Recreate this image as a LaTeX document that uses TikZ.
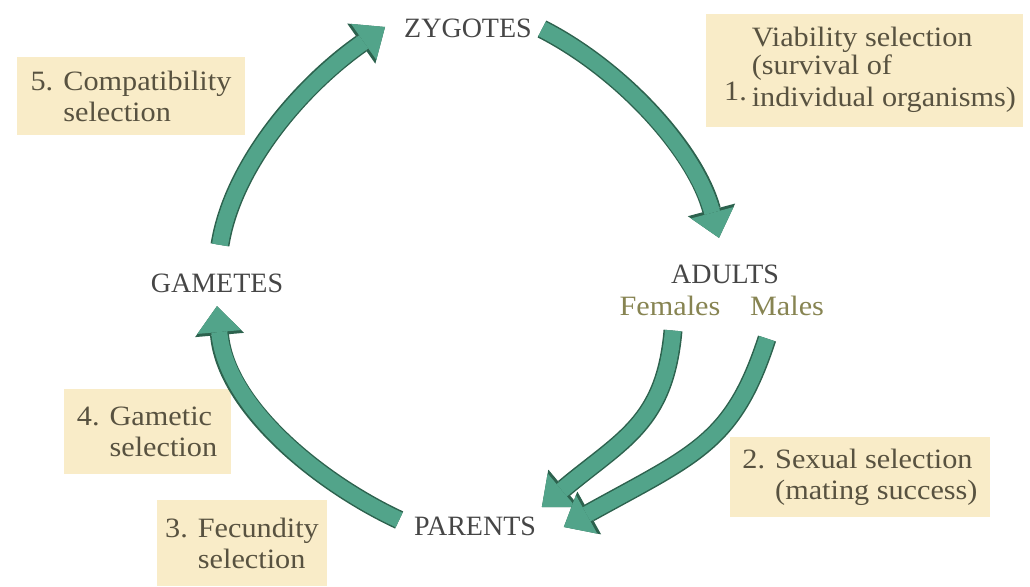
\documentclass[tikz,border=0pt]{standalone}
\usepackage{fontspec}
\setmainfont{Liberation Serif}
\newfontfamily\widefont[FakeStretch=1.08]{Liberation Serif}
\usetikzlibrary{arrows.meta}
\definecolor{boxbeige}{RGB}{249,236,200}
\definecolor{boxtext}{RGB}{88,82,64}
\definecolor{stagegray}{RGB}{70,70,70}
\definecolor{sexolive}{RGB}{135,132,82}
\definecolor{arrowteal}{RGB}{82,164,138}
\definecolor{arrowedge}{RGB}{45,98,78}
\tikzset{
  stage/.style={inner sep=0pt, text=stagegray, font=\fontsize{28}{32}\selectfont},
  sex/.style={inner sep=0pt, text=sexolive, font=\widefont\fontsize{28}{32}\selectfont},
  selbox/.style={fill=boxbeige, text=boxtext, align=left, inner sep=0pt,
    font=\widefont\fontsize{28}{31}\selectfont},
  cycarrow/.style={draw=arrowteal, line width=16pt,
    -{Triangle[length=26pt,width=44pt,line width=0pt]},
    preaction={draw=arrowedge, line width=19pt,
      -{Triangle[length=29pt,width=49pt,line width=0pt]}}}
}
\begin{document}
\begin{tikzpicture}[x=1pt,y=1pt]
  \useasboundingbox (0,0) rectangle (1030,586);
  % selection boxes
  \node[selbox, minimum width=228pt, minimum height=78pt] (sel5) at (131,490)
    {5. Compatibility\\\phantom{5. }selection};
  \node[selbox, minimum width=317pt, minimum height=113pt,
    font=\widefont\fontsize{28}{27}\selectfont] (sel1) at (864,515)
    {\hspace*{12pt}\begin{tabular}{@{}l@{\hspace{5pt}}l@{}}
      & Viability selection\\
      & (survival of\\
      \raisebox{6pt}{1.} & individual organisms)
    \end{tabular}};
  \node[selbox, minimum width=260pt, minimum height=80pt] (sel2) at (860,109)
    {2. Sexual selection\\\phantom{2. }(mating success)};
  \node[selbox, minimum width=167pt, minimum height=85pt] (sel4) at (147,154)
    {4. Gametic\\\phantom{4. }selection};
  \node[selbox, minimum width=170pt, minimum height=86pt] (sel3) at (242,43)
    {3. Fecundity\\\phantom{3. }selection};
  % life stages
  \node[stage] (zyg) at (468,558) {ZYGOTES};
  \node[stage] (gam) at (217,303) {GAMETES};
  \node[stage] (adu) at (725,312) {ADULTS};
  \node[sex] (fem) at (670,280) {Females};
  \node[sex] (mal) at (787,280) {Males};
  \node[stage] (par) at (475,60) {PARENTS};
  % cycle arrows
  \draw[cycarrow] ([xshift=3pt,yshift=28.5pt]gam.north)
    to[out=81,in=215,out distance=80pt,in distance=103pt] ([xshift=-19pt,yshift=1pt]zyg.west);
  \draw[cycarrow] ([xshift=10pt,yshift=-1pt]zyg.east)
    to[out=-27,in=105,out distance=90pt,in distance=90pt] ([xshift=-6pt,yshift=26.5pt]adu.north);
  \draw[cycarrow] ([xshift=3pt,yshift=-14.5pt]fem.south)
    to[out=265,in=40,out distance=93pt,in distance=105pt] ([xshift=5.7pt,yshift=19pt]par.east);
  \draw[cycarrow] ([xshift=-20pt,yshift=-22.5pt]mal.south)
    to[out=252,in=29,out distance=110pt,in distance=150pt] ([xshift=27.7pt,yshift=-1pt]par.east);
  \draw[cycarrow] ([xshift=-14.7pt,yshift=6pt]par.west)
    to[out=155,in=-85,out distance=90pt,in distance=100pt] ([yshift=-13.5pt]gam.south);
\end{tikzpicture}
\end{document}
